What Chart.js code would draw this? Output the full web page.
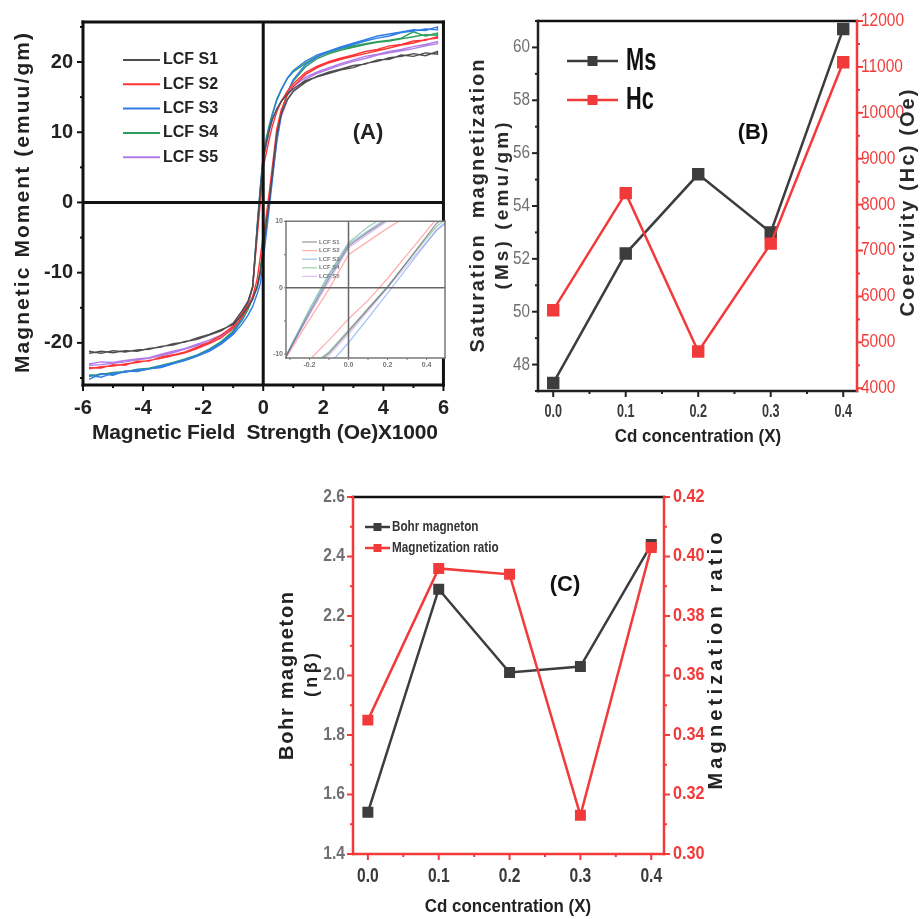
<!DOCTYPE html>
<html>
<head>
<meta charset="utf-8">
<script src="https://cdn.jsdelivr.net/npm/chart.js@4.4.1/dist/chart.umd.min.js"></script>
<style>
  body { margin: 0; background: #fff; }
  #wrap { position: relative; width: 920px; height: 919px; overflow: hidden; }
  canvas { position: absolute; }
</style>
</head>
<body>
<div id="wrap">
  <canvas id="loops" width="460" height="450" style="left:0;top:0"></canvas>
  <canvas id="loopZoom" width="190" height="160" style="left:262px;top:214px"></canvas>
  <canvas id="msHc" width="460" height="450" style="left:460px;top:0"></canvas>
  <canvas id="bohr" width="460" height="449" style="left:270px;top:470px"></canvas>
</div>
<script>
// M-H loops, field in kOe
const fieldKOe = [-5.8, -5.4, -5.0, -4.6, -4.2, -3.8, -3.4, -3.0, -2.6, -2.2, -1.8, -1.4, -1.0,
  -0.7, -0.5, -0.35, -0.2, -0.1, 0, 0.1, 0.2, 0.3, 0.45, 0.6, 0.8, 1.0,
  1.4, 1.8, 2.2, 2.6, 3.0, 3.4, 3.8, 4.2, 4.6, 5.0, 5.4, 5.8];

const s1Up = [-21.5, -21.2, -21.4, -21.1, -21.2, -20.8, -20.6, -20.1, -19.9, -19.3, -18.8, -18.1, -17.4,
  -16.0, -14.8, -13.8, -12.0, -9.9, -6.6, -3.2, 0.1, 3.9, 9.7, 12.6, 14.6, 15.8,
  17.1, 18.0, 18.6, 19.0, 19.5, 19.7, 20.3, 20.4, 21.0, 20.8, 21.3, 21.1];
const s1Down = [-21.2, -21.5, -21.1, -21.3, -21.0, -20.9, -20.5, -20.3, -19.8, -19.5, -18.9, -18.3, -17.2,
  -15.4, -14.0, -12.0, -3.8, 1.4, 6.3, 8.4, 10.3, 11.8, 13.3, 14.4, 15.4, 16.2,
  17.3, 17.9, 18.4, 18.9, 19.2, 19.8, 20.1, 20.6, 20.8, 21.2, 20.9, 21.5];

const s2Up = [-23.7, -23.4, -23.3, -23.0, -22.8, -22.5, -22.2, -21.8, -21.4, -20.8, -20.1, -19.3, -17.9,
  -16.3, -14.9, -13.4, -10.9, -7.9, -4.7, -1.9, 1.4, 5.0, 10.4, 13.2, 15.2, 16.5,
  18.2, 19.2, 19.9, 20.4, 20.8, 21.2, 21.6, 22.0, 22.4, 22.7, 23.2, 23.4];
const s2Down = [-23.5, -23.6, -23.1, -23.2, -22.6, -22.6, -22.0, -21.7, -21.3, -20.6, -19.9, -18.9, -17.6,
  -15.8, -14.2, -12.0, -4.8, -0.2, 5.0, 7.0, 9.0, 10.8, 12.9, 14.4, 15.8, 16.9,
  18.5, 19.4, 20.1, 20.6, 21.0, 21.5, 21.8, 22.3, 22.5, 23.0, 23.1, 23.6];

const s3Up = [-25.2, -24.4, -24.6, -24.0, -24.1, -23.7, -23.5, -23.0, -22.5, -21.9, -21.2, -20.2, -18.8,
  -17.3, -16.0, -14.8, -13.0, -11.6, -8.3, -4.6, -0.8, 3.0, 8.7, 12.6, 15.6, 17.5,
  19.6, 20.7, 21.5, 22.0, 22.5, 23.0, 23.4, 23.7, 24.2, 24.4, 24.7, 24.6];
const s3Down = [-24.6, -24.9, -24.3, -24.2, -23.8, -23.7, -23.3, -22.9, -22.4, -21.8, -21.0, -20.0, -18.6,
  -16.5, -14.4, -12.0, -3.5, 1.8, 6.6, 8.6, 10.6, 12.4, 14.5, 16.0, 17.7, 18.8,
  20.1, 21.0, 21.6, 22.2, 22.7, 23.2, 23.7, 24.0, 24.3, 24.6, 24.5, 25.0];

const s4Up = [-24.8, -24.4, -24.5, -24.1, -24.0, -23.7, -23.4, -22.9, -22.5, -21.9, -21.1, -20.0, -18.5,
  -16.8, -15.2, -13.6, -11.9, -9.7, -6.4, -3.1, 0.2, 3.9, 9.2, 12.8, 15.6, 17.3,
  19.3, 20.5, 21.2, 21.7, 22.1, 22.5, 22.8, 23.0, 23.3, 23.6, 23.9, 23.8];
const s4Down = [-24.6, -24.5, -24.2, -24.1, -23.8, -23.6, -23.2, -22.8, -22.3, -21.7, -20.9, -19.8, -18.3,
  -16.2, -14.2, -12.0, -3.2, 2.1, 6.8, 9.2, 11.0, 12.6, 14.7, 16.1, 17.6, 18.6,
  19.8, 20.8, 21.4, 21.9, 22.3, 22.6, 22.9, 23.1, 23.4, 24.3, 23.7, 24.1];

const s5Up = [-23.2, -23.1, -22.9, -22.7, -22.4, -22.2, -21.8, -21.4, -20.9, -20.4, -19.9, -19.1, -18.1,
  -16.3, -14.8, -13.4, -12.2, -10.2, -7.0, -3.5, 0.0, 3.5, 8.6, 12.2, 14.6, 15.9,
  17.5, 18.4, 19.0, 19.6, 20.1, 20.5, 21.0, 21.3, 21.6, 21.9, 22.3, 22.6];
const s5Down = [-23.0, -22.7, -22.8, -22.5, -22.3, -22.1, -21.6, -21.2, -20.8, -20.2, -19.6, -18.9, -17.8,
  -15.5, -14.0, -12.0, -4.1, 1.0, 6.0, 8.1, 10.1, 11.7, 13.3, 14.4, 15.6, 16.5,
  17.8, 18.6, 19.2, 19.8, 20.3, 20.8, 21.1, 21.5, 21.8, 22.2, 22.5, 22.9];

// Cd substitution series
const cdConc = [0.0, 0.1, 0.2, 0.3, 0.4];
const msValues = [47.3, 52.2, 55.2, 53.0, 60.7];
const hcValues = [5700, 8250, 4800, 7150, 11100];
const bohrValues = [1.54, 2.29, 2.01, 2.03, 2.44];
const ratioValues = [0.345, 0.396, 0.394, 0.313, 0.403];

// tick positions
const fieldTicks = [-6, -5, -4, -3, -2, -1, 0, 1, 2, 3, 4, 5, 6];
const momentTicks = [-25, -20, -15, -10, -5, 0, 5, 10, 15, 20, 25];
const zoomFieldTicks = [-0.3, -0.2, -0.1, 0, 0.1, 0.2, 0.3, 0.4];
const zoomMomentTicks = [-10, -5, 0, 5, 10];
const cdTicks = [0, 0.05, 0.1, 0.15, 0.2, 0.25, 0.3, 0.35, 0.4];
const msTicks = [47, 48, 49, 50, 51, 52, 53, 54, 55, 56, 57, 58, 59, 60, 61];
const hcTicks = [4000, 4500, 5000, 5500, 6000, 6500, 7000, 7500, 8000, 8500, 9000, 9500, 10000, 10500, 11000, 11500, 12000];
const bohrTicks = [1.4, 1.5, 1.6, 1.7, 1.8, 1.9, 2.0, 2.1, 2.2, 2.3, 2.4, 2.5, 2.6];
const ratioTicks = [0.30, 0.31, 0.32, 0.33, 0.34, 0.35, 0.36, 0.37, 0.38, 0.39, 0.40, 0.41, 0.42];

const SANS = "'Liberation Sans', Arial, sans-serif";
const INK = '#3d3d3d';
const RED = '#f23a3a';
const GREY = '#707070';
const HALF_PI = Math.PI / 2;

const samples = [
  { name: 'LCF S1', color: '#4d4d4d', faint: 'rgba(80,80,80,0.55)', up: s1Up, down: s1Down },
  { name: 'LCF S2', color: '#ff3535', faint: 'rgba(255,80,80,0.45)', up: s2Up, down: s2Down },
  { name: 'LCF S3', color: '#2f7de6', faint: 'rgba(60,130,230,0.45)', up: s3Up, down: s3Down },
  { name: 'LCF S4', color: '#2c9d5a', faint: 'rgba(50,160,90,0.45)', up: s4Up, down: s4Down },
  { name: 'LCF S5', color: '#b27ce8', faint: 'rgba(180,125,235,0.45)', up: s5Up, down: s5Down }
];

function loopPoints(s) {
  const rising = fieldKOe.map((h, i) => ({ x: h, y: s.up[i] }));
  const falling = fieldKOe.map((h, i) => ({ x: h, y: s.down[i] })).reverse();
  return rising.concat(falling);
}

function loopSets(faint, width) {
  return samples.map(s => ({
    label: s.name,
    data: loopPoints(s),
    showLine: true,
    borderColor: faint ? s.faint : s.color,
    borderWidth: width,
    pointRadius: 0,
    fill: false
  }));
}

// text helper: optional rotation, horizontal squeeze (sx) and stretch to a width
function putText(ctx, t) {
  ctx.save();
  ctx.translate(t.x, t.y);
  if (t.rot) ctx.rotate(t.rot);
  if (t.sx) ctx.scale(t.sx, 1);
  ctx.font = t.font;
  ctx.fillStyle = t.color || '#222';
  ctx.textBaseline = 'middle';
  if (!t.width) {
    ctx.textAlign = t.align || 'center';
    ctx.fillText(t.text, 0, 0);
  } else {
    const chars = Array.from(t.text);
    const w = chars.map(c => ctx.measureText(c).width);
    const natural = w.reduce((a, b) => a + b, 0);
    const gap = (t.width - natural) / (chars.length - 1);
    let x = -t.width / 2;
    chars.forEach((c, i) => { ctx.fillText(c, x, 0); x += w[i] + gap; });
  }
  ctx.restore();
}

const decor = {
  id: 'decor',
  beforeDatasetsDraw(chart, args, o) {
    if (!o.fill) return;
    const a = chart.chartArea;
    chart.ctx.fillStyle = o.fill;
    chart.ctx.fillRect(a.left, a.top, a.right - a.left, a.bottom - a.top);
  },
  afterDatasetsDraw(chart, args, o) {
    const { ctx, chartArea: a, scales } = chart;
    ctx.save();
    if (o.zero) {
      const x0 = scales.x.getPixelForValue(0);
      const y0 = scales.y.getPixelForValue(0);
      ctx.strokeStyle = o.zero.color;
      ctx.lineWidth = o.zero.width;
      ctx.beginPath();
      ctx.moveTo(x0, a.top); ctx.lineTo(x0, a.bottom);
      ctx.moveTo(a.left, y0); ctx.lineTo(a.right, y0);
      ctx.stroke();
    }
    // outward tick marks, shorter where no label; condensed labels where asked
    Object.values(scales).forEach(s => {
      const side = s.position;
      const lab = (o.labels || {})[s.id];
      s.ticks.forEach(t => {
        const text = t.label == null ? '' : String(t.label);
        const len = text !== '' ? o.major : o.minor;
        const p = s.getPixelForValue(t.value);
        ctx.strokeStyle = o.sides[side];
        ctx.lineWidth = o.tickWidth;
        ctx.beginPath();
        if (side === 'bottom') { ctx.moveTo(p, a.bottom); ctx.lineTo(p, a.bottom + len); }
        if (side === 'left') { ctx.moveTo(a.left, p); ctx.lineTo(a.left - len, p); }
        if (side === 'right') { ctx.moveTo(a.right, p); ctx.lineTo(a.right + len, p); }
        ctx.stroke();
        if (!lab || text === '') return;
        const base = { text, font: lab.font, color: lab.color, sx: lab.sx };
        if (side === 'bottom') putText(ctx, Object.assign(base, { x: p, y: a.bottom + lab.pad }));
        if (side === 'left') putText(ctx, Object.assign(base, { x: a.left - lab.pad, y: p, align: 'right' }));
        if (side === 'right') putText(ctx, Object.assign(base, { x: a.right + lab.pad, y: p, align: 'left' }));
      });
    });
    ctx.lineWidth = o.width;
    ctx.lineCap = 'square';
    const edge = (c, x1, y1, x2, y2) => {
      ctx.strokeStyle = c;
      ctx.beginPath(); ctx.moveTo(x1, y1); ctx.lineTo(x2, y2); ctx.stroke();
    };
    edge(o.sides.top, a.left, a.top, a.right, a.top);
    edge(o.sides.bottom, a.left, a.bottom, a.right, a.bottom);
    edge(o.sides.left, a.left, a.top, a.left, a.bottom);
    edge(o.sides.right, a.right, a.top, a.right, a.bottom);
    ctx.lineCap = 'butt';
    (o.keys || []).forEach(k => {
      ctx.strokeStyle = k.color;
      ctx.lineWidth = k.width;
      ctx.beginPath(); ctx.moveTo(k.x1, k.y); ctx.lineTo(k.x2, k.y); ctx.stroke();
      if (k.marker) {
        ctx.fillStyle = k.color;
        ctx.fillRect((k.x1 + k.x2) / 2 - k.marker / 2, k.y - k.marker / 2, k.marker, k.marker);
      }
      putText(ctx, { text: k.text, x: k.tx, y: k.y, font: k.font, color: k.textColor, align: 'left', sx: k.sx });
    });
    (o.texts || []).forEach(t => putText(ctx, t));
    ctx.restore();
  }
};

function axis(position, min, max, ticks, label, size, tickOpts) {
  return {
    type: 'linear', position, min, max,
    afterBuildTicks: s => { s.ticks = ticks.map(v => ({ value: v })); },
    afterFit: s => { if (position === 'bottom') s.height = size; else s.width = size; },
    grid: { display: false, drawTicks: false },
    border: { display: false },
    ticks: Object.assign({ autoSkip: false, maxRotation: 0, callback: label }, tickOpts)
  };
}

const baseOptions = (padding, scales, decorOpts) => ({
  responsive: false,
  animation: false,
  events: [],
  layout: { padding },
  scales,
  plugins: { legend: { display: false }, tooltip: { enabled: false }, decor: decorOpts }
});

const bigBold = { family: SANS, size: 20, weight: 'bold' };
const hidden = { display: false };

// (A) hysteresis loops
new Chart(document.getElementById('loops'), {
  type: 'scatter',
  data: { datasets: loopSets(false, 1.4) },
  options: baseOptions({ top: 22, right: 9, left: 0, bottom: 0 }, {
    x: axis('bottom', -6, 6, fieldTicks, v => (v % 2 === 0 ? String(v) : ''), 65,
      { font: bigBold, color: '#222', padding: 11 }),
    y: axis('left', -26, 25.7, momentTicks, v => (v % 10 === 0 ? String(v) : ''), 83,
      { font: bigBold, color: '#222', padding: 10 })
  }, {
    sides: { top: '#111', bottom: '#111', left: '#111', right: '#111' },
    width: 3, tickWidth: 2, major: 6, minor: 3,
    zero: { color: '#111', width: 3 },
    keys: samples.map((s, i) => ({
      x1: 123, x2: 160, y: 60 + i * 24.3, color: s.color, width: 2, text: s.name,
      tx: 163, font: `bold 16px ${SANS}`, textColor: '#222'
    })),
    texts: [
      { text: 'Magnetic Field  Strength (Oe)X1000', x: 265, y: 433, font: `bold 21px ${SANS}`, width: 346 },
      { text: 'Magnetic Moment (emuu/gm)', x: 23, y: 203, rot: -HALF_PI, font: `bold 21px ${SANS}`, width: 340 },
      { text: '(A)', x: 368, y: 133, font: `bold 22px ${SANS}` }
    ]
  }),
  plugins: [decor]
});

// inset: the loops near the origin
const tinyFont = { family: SANS, size: 7, weight: 'bold' };
new Chart(document.getElementById('loopZoom'), {
  type: 'scatter',
  data: { datasets: loopSets(true, 1.3) },
  options: baseOptions({ top: 7, right: 7, left: 0, bottom: 0 }, {
    x: axis('bottom', -0.32, 0.494, zoomFieldTicks,
      v => (Math.round(v * 10) % 2 === 0 ? v.toFixed(1) : ''), 16,
      { font: tinyFont, color: '#777', padding: 3 }),
    y: axis('left', -10.6, 10.05, zoomMomentTicks, v => (v % 10 === 0 ? String(v) : ''), 24,
      { font: tinyFont, color: '#777', padding: 3 })
  }, {
    fill: '#fff',
    sides: { top: '#777', bottom: '#777', left: '#777', right: '#777' },
    width: 1.5, tickWidth: 1, major: 2, minor: 2,
    zero: { color: '#666', width: 1.5 },
    keys: samples.map((s, i) => ({
      x1: 40, x2: 55, y: 28 + i * 8.6, color: s.faint, width: 1.3, text: s.name,
      tx: 57, font: `bold 6px ${SANS}`, textColor: '#777'
    }))
  }),
  plugins: [decor]
});

// (B) saturation magnetization and coercivity
new Chart(document.getElementById('msHc'), {
  type: 'scatter',
  data: {
    datasets: [
      {
        label: 'Ms', yAxisID: 'y', order: 2, showLine: true,
        data: cdConc.map((c, i) => ({ x: c, y: msValues[i] })),
        borderColor: INK, backgroundColor: INK, borderWidth: 2.5,
        pointStyle: 'rect', pointRadius: 7
      },
      {
        label: 'Hc', yAxisID: 'y2', order: 1, showLine: true,
        data: cdConc.map((c, i) => ({ x: c, y: hcValues[i] })),
        borderColor: RED, backgroundColor: RED, borderWidth: 2.5,
        pointStyle: 'rect', pointRadius: 7
      }
    ]
  },
  options: baseOptions({ top: 21, right: 0, left: 0, bottom: 0 }, {
    x: axis('bottom', -0.021, 0.419, cdTicks,
      v => (Math.round(v * 100) % 10 === 0 ? v.toFixed(1) : ''), 59, hidden),
    y: axis('left', 47, 61, msTicks, v => (v % 2 === 0 ? String(v) : ''), 78, hidden),
    y2: axis('right', 3940, 12000, hcTicks, v => (v % 1000 === 0 ? String(v) : ''), 63, hidden)
  }, {
    sides: { top: '#111', bottom: '#222', left: '#222', right: RED },
    width: 2.5, tickWidth: 2, major: 6, minor: 3,
    labels: {
      x: { font: `bold 18px ${SANS}`, color: '#3a3a3a', sx: 0.7, pad: 21 },
      y: { font: `18px ${SANS}`, color: GREY, sx: 0.85, pad: 8 },
      y2: { font: `18px ${SANS}`, color: RED, sx: 0.86, pad: 4 }
    },
    keys: [
      { x1: 107, x2: 158, y: 61, color: INK, width: 2.5, marker: 10, text: 'Ms', tx: 166,
        font: `bold 32px ${SANS}`, sx: 0.68, textColor: '#111' },
      { x1: 107, x2: 158, y: 100, color: RED, width: 2.5, marker: 10, text: 'Hc', tx: 166,
        font: `bold 32px ${SANS}`, sx: 0.68, textColor: '#111' }
    ],
    texts: [
      { text: 'Saturation  magnetization', x: 18, y: 206, rot: -HALF_PI, font: `bold 20px ${SANS}`, width: 293, color: '#2a2a2a' },
      { text: '(Ms) (emu/gm)', x: 43, y: 206, rot: -HALF_PI, font: `bold 19px ${SANS}`, width: 167, color: '#2a2a2a' },
      { text: 'Coercivity (Hc) (Oe)', x: 448, y: 203, rot: -HALF_PI, font: `bold 20px ${SANS}`, width: 227, color: '#2a2a2a' },
      { text: 'Cd concentration (X)', x: 238, y: 437, font: `bold 19px ${SANS}`, sx: 0.89, color: '#222' },
      { text: '(B)', x: 293, y: 133, font: `bold 22px ${SANS}`, color: '#111' }
    ]
  }),
  plugins: [decor]
});

// (C) Bohr magneton and magnetization ratio
new Chart(document.getElementById('bohr'), {
  type: 'scatter',
  data: {
    datasets: [
      {
        label: 'Bohr magneton', yAxisID: 'y', order: 2, showLine: true,
        data: cdConc.map((c, i) => ({ x: c, y: bohrValues[i] })),
        borderColor: INK, backgroundColor: INK, borderWidth: 2.5,
        pointStyle: 'rect', pointRadius: 6
      },
      {
        label: 'Magnetization ratio', yAxisID: 'y2', order: 1, showLine: true,
        data: cdConc.map((c, i) => ({ x: c, y: ratioValues[i] })),
        borderColor: RED, backgroundColor: RED, borderWidth: 2.5,
        pointStyle: 'rect', pointRadius: 6
      }
    ]
  },
  options: baseOptions({ top: 27, right: 0, left: 0, bottom: 0 }, {
    x: axis('bottom', -0.021, 0.418, cdTicks,
      v => (Math.round(v * 100) % 10 === 0 ? v.toFixed(1) : ''), 65, hidden),
    y: axis('left', 1.4, 2.6, bohrTicks,
      v => (Math.round(v * 10) % 2 === 0 ? v.toFixed(1) : ''), 83, hidden),
    y2: axis('right', 0.30, 0.42, ratioTicks,
      v => (Math.round(v * 100) % 2 === 0 ? v.toFixed(2) : ''), 66, hidden)
  }, {
    sides: { top: '#111', bottom: RED, left: RED, right: RED },
    width: 2.5, tickWidth: 2, major: 6, minor: 3,
    labels: {
      x: { font: `bold 20px ${SANS}`, color: '#3a3a3a', sx: 0.78, pad: 22 },
      y: { font: `bold 18px ${SANS}`, color: GREY, sx: 0.87, pad: 8 },
      y2: { font: `bold 18px ${SANS}`, color: RED, sx: 0.9, pad: 9 }
    },
    keys: [
      { x1: 95, x2: 120, y: 57, color: INK, width: 2.5, marker: 8, text: 'Bohr magneton', tx: 122,
        font: `bold 15px ${SANS}`, sx: 0.78, textColor: '#333' },
      { x1: 95, x2: 120, y: 78, color: RED, width: 2.5, marker: 8, text: 'Magnetization ratio', tx: 122,
        font: `bold 15px ${SANS}`, sx: 0.78, textColor: '#333' }
    ],
    texts: [
      { text: 'Bohr magneton', x: 17, y: 206, rot: -HALF_PI, font: `bold 20px ${SANS}`, width: 168, color: '#222' },
      { text: '(nβ)', x: 42, y: 205, rot: -HALF_PI, font: `bold 18px ${SANS}`, width: 44, color: '#222' },
      { text: 'Magnetization ratio', x: 446, y: 191, rot: -HALF_PI, font: `bold 20px ${SANS}`, width: 257, color: '#222' },
      { text: 'Cd concentration (X)', x: 238, y: 437, font: `bold 19px ${SANS}`, sx: 0.89, color: '#222' },
      { text: '(C)', x: 295, y: 115, font: `bold 22px ${SANS}`, color: '#111' }
    ]
  }),
  plugins: [decor]
});
</script>
</body>
</html>
